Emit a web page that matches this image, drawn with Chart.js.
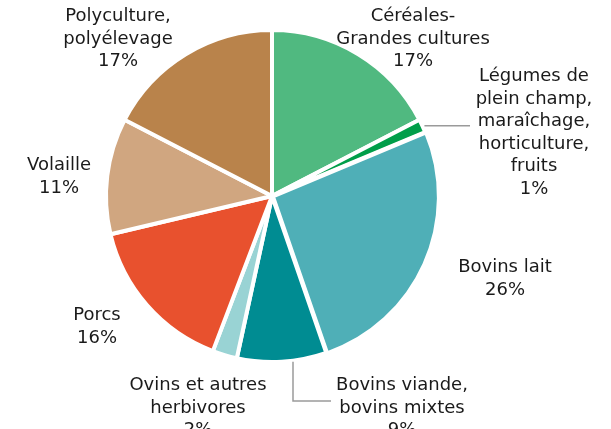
<!DOCTYPE html>
<html>
<head>
<meta charset="utf-8">
<script src="https://cdn.jsdelivr.net/npm/chart.js@4"></script>
<style>
  html, body { margin: 0; padding: 0; background: #fff; }
  #wrap { width: 611px; height: 429px; }
</style>
</head>
<body>
<div id="wrap"><canvas id="pie"></canvas></div>
<script>
// slices, clockwise from 12 o'clock
const categories = [
    ['Céréales-', 'Grandes cultures'],
    ['Légumes de', 'plein champ,', 'maraîchage,', 'horticulture,', 'fruits'],
    ['Bovins lait'],
    ['Bovins viande,', 'bovins mixtes'],
    ['Ovins et autres', 'herbivores'],
    ['Porcs'],
    ['Volaille'],
    ['Polyculture,', 'polyélevage']
];
const shares = [17.4, 1.3, 26.0, 8.7, 2.4, 15.5, 11.3, 17.4];
const shareLabels = ['17%', '1%', '26%', '9%', '2%', '16%', '11%', '17%'];
const colors = ['#50b980', '#009e49', '#4fafb7', '#008c92', '#99d3d4', '#e8512e', '#d0a680', '#b9834b'];

// label block: centre x, first baseline y
const labelPos = [
    [413, 21], [534, 81], [505, 272], [402, 390],
    [198, 390], [97, 320], [59, 170], [118, 21]
];
const lineH = 22.5;

const labelPlugin = {
    id: 'sliceLabels',
    afterDraw(chart) {
        const ctx = chart.ctx;
        const arcs = chart.getDatasetMeta(0).data;
        ctx.save();

        // leader lines for the two narrow/low slices
        ctx.strokeStyle = '#9a9a9a';
        ctx.lineWidth = 1.5;
        const leg = arcs[1];
        const mid1 = (leg.startAngle + leg.endAngle) / 2;
        const lx = leg.x + leg.outerRadius * Math.cos(mid1) + 2;
        const ly = leg.y + leg.outerRadius * Math.sin(mid1);
        ctx.beginPath();
        ctx.moveTo(lx, ly);
        ctx.lineTo(470, ly);
        ctx.stroke();

        const bv = arcs[3];
        const vx = 293;
        const vy = bv.y + Math.sqrt(bv.outerRadius * bv.outerRadius - (vx - bv.x) * (vx - bv.x)) + 1;
        ctx.beginPath();
        ctx.moveTo(vx, vy);
        ctx.lineTo(vx, 401);
        ctx.lineTo(331, 401);
        ctx.stroke();

        ctx.fillStyle = '#1a1a1a';
        ctx.font = '18px "DejaVu Sans"';
        ctx.textAlign = 'center';
        ctx.textBaseline = 'alphabetic';
        categories.forEach((lines, i) => {
            const [x, y] = labelPos[i];
            const all = lines.concat([shareLabels[i]]);
            all.forEach((t, k) => ctx.fillText(t, x, y + k * lineH));
        });
        ctx.restore();
    }
};

new Chart(document.getElementById('pie').getContext('2d'), {
    type: 'pie',
    data: {
        labels: categories.map(c => c.join(' ')),
        datasets: [{
            data: shares,
            backgroundColor: colors,
            borderColor: '#ffffff',
            borderWidth: 4,
            offset: [0, 0, 4, 0, 0, 0, 0, 0]
        }]
    },
    options: {
        responsive: true,
        maintainAspectRatio: false,
        animation: false,
        events: [],
        radius: 166,
        layout: { padding: { left: 0, right: 67, top: 0, bottom: 37 } },
        plugins: {
            legend: { display: false },
            tooltip: { enabled: false }
        }
    },
    plugins: [labelPlugin]
});
</script>
</body>
</html>
